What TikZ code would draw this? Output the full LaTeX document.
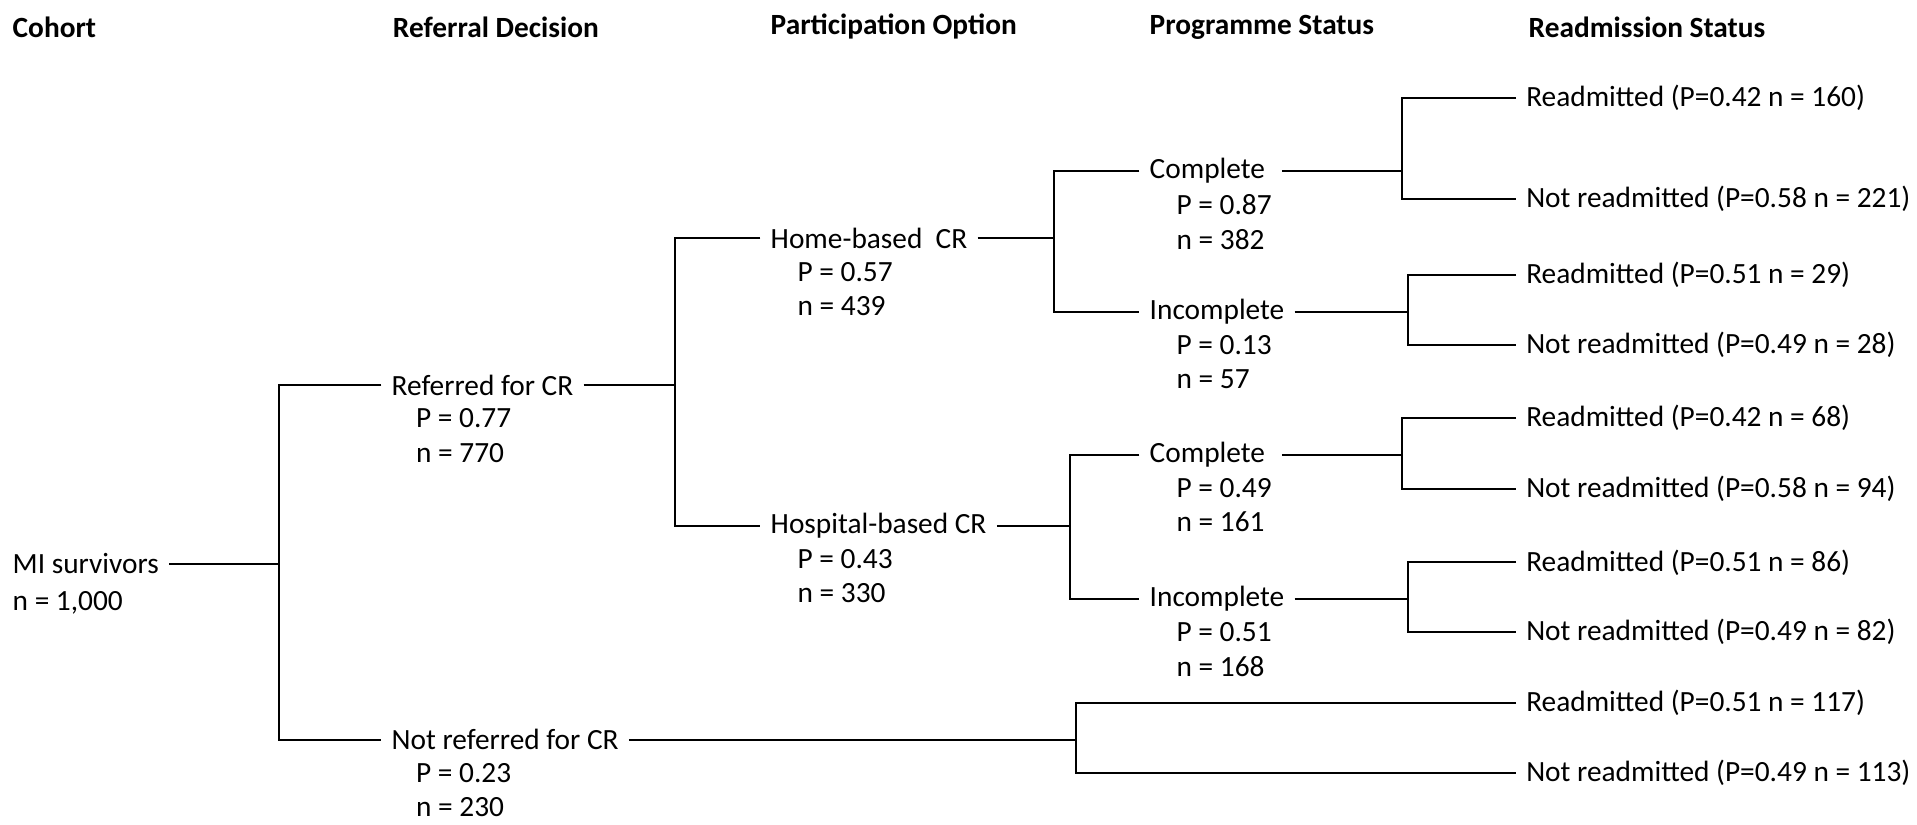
\documentclass[tikz,border=0pt]{standalone}
\usepackage{fontspec}
\setmainfont{Carlito}
\usetikzlibrary{positioning}

\begin{document}
\begin{tikzpicture}[
  x=0.5pt, y=-0.5pt,
  font=\fontsize{12}{14}\selectfont,
  head/.style={anchor=west, inner sep=0pt, font=\fontsize{12}{14}\selectfont\bfseries},
  lab/.style={anchor=west, inner xsep=4pt, inner ysep=1pt},
  stat/.style={anchor=north west, align=left, inner sep=0pt},
  br/.style={line width=0.8pt}
]
\useasboundingbox (0,0) rectangle (1568,674);

% column headings
\node[head] (hcoh) at (10,22) {Cohort};
\node[head] (href) at (321,22) {Referral Decision};
\node[head] (hpar) at (630,22) {Participation Option};
\node[head] (hprg) at (940,22) {Programme Status};
\node[head] (hrea) at (1250,22) {Readmission Status};

% cohort and referral
\node[lab] (mi) at (2,461) {MI survivors};
\node[stat] at (10,483) {n = 1,000};
\node[lab] (ref) at (312,315) {Referred for CR};
\node[stat] at (340,334) {P = 0.77\\n = 770};
\node[lab] (nref) at (312,605) {Not referred for CR};
\node[stat] at (340,624) {P = 0.23\\n = 230};

% participation
\node[lab] (home) at (622,195) {Home-based\ \ CR};
\node[stat] at (652,214) {P = 0.57\\n = 439};
\node[lab] (hosp) at (622,430) {Hospital-based CR};
\node[stat] at (652,449) {P = 0.43\\n = 330};

% programme status
\node[lab] (cmp1) at (932,140) {Complete\ \ };
\node[stat] at (962,159) {P = 0.87\\n = 382};
\node[lab] (inc1) at (932,255) {Incomplete\ };
\node[stat] at (962,274) {P = 0.13\\n = 57};
\node[lab] (cmp2) at (932,372) {Complete\ \ };
\node[stat] at (962,391) {P = 0.49\\n = 161};
\node[lab] (inc2) at (932,490) {Incomplete\ };
\node[stat] at (962,509) {P = 0.51\\n = 168};

% readmission
\node[lab] (ra1) at (1240,80) {Readmitted (P=0.42 n = 160)};
\node[lab] (na1) at (1240,163) {Not readmitted (P=0.58 n = 221)};
\node[lab] (ra2) at (1240,225) {Readmitted (P=0.51 n = 29)};
\node[lab] (na2) at (1240,282) {Not readmitted (P=0.49 n = 28)};
\node[lab] (ra3) at (1240,342) {Readmitted (P=0.42 n = 68)};
\node[lab] (na3) at (1240,400) {Not readmitted (P=0.58 n = 94)};
\node[lab] (ra4) at (1240,460) {Readmitted (P=0.51 n = 86)};
\node[lab] (na4) at (1240,517) {Not readmitted (P=0.49 n = 82)};
\node[lab] (ra5) at (1240,575) {Readmitted (P=0.51 n = 117)};
\node[lab] (na5) at (1240,632) {Not readmitted (P=0.49 n = 113)};

% branch points
\coordinate (j0) at (228,461);
\coordinate (j1) at (552,315);
\coordinate (j2) at (862,195);
\coordinate (j3) at (875,430);
\coordinate (j4) at (1147,140);
\coordinate (j5) at (1152,255);
\coordinate (j6) at (1147,372);
\coordinate (j7) at (1152,490);
\coordinate (j8) at (880,605);

\draw[br] (mi.east) -- (j0);
\draw[br] (ref.west) -| (j0) |- (nref.west);
\draw[br] (ref.east) -- (j1);
\draw[br] (home.west) -| (j1) |- (hosp.west);
\draw[br] (home.east) -- (j2);
\draw[br] (cmp1.west) -| (j2) |- (inc1.west);
\draw[br] (hosp.east) -- (j3);
\draw[br] (cmp2.west) -| (j3) |- (inc2.west);
\draw[br] (cmp1.east) -- (j4);
\draw[br] (ra1.west) -| (j4) |- (na1.west);
\draw[br] (inc1.east) -- (j5);
\draw[br] (ra2.west) -| (j5) |- (na2.west);
\draw[br] (cmp2.east) -- (j6);
\draw[br] (ra3.west) -| (j6) |- (na3.west);
\draw[br] (inc2.east) -- (j7);
\draw[br] (ra4.west) -| (j7) |- (na4.west);
\draw[br] (nref.east) -- (j8);
\draw[br] (ra5.west) -| (j8) |- (na5.west);
\end{tikzpicture}
\end{document}
